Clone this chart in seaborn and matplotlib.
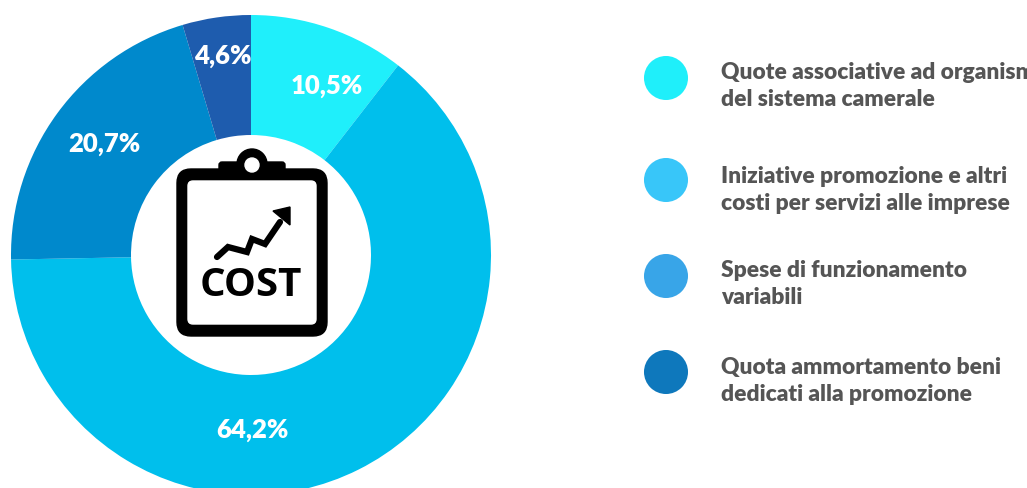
import matplotlib
matplotlib.use("Agg")
import matplotlib.pyplot as plt
import pandas as pd
import seaborn as sns
from matplotlib.patches import Circle, FancyBboxPatch, Polygon

# values
categories = [
    "Quote associative ad organismi\ndel sistema camerale",
    "Iniziative promozione e altri\ncosti per servizi alle imprese",
    "Spese di funzionamento\nvariabili",
    "Quota ammortamento beni\ndedicati alla promozione",
]
values = [10.5, 64.2, 20.7, 4.6]
value_labels = ["10,5%", "64,2%", "20,7%", "4,6%"]
slice_colors = ["#1FEFFB", "#00BFEC", "#0089CC", "#1E5CAE"]
legend_colors = ["#1FEFFA", "#38C6F9", "#38A5E8", "#0E78BC"]

# layout in pixels of the 1027x488 canvas
label_pos = [(327, 86), (252, 430), (104, 144), (223, 56)]
legend_x = [666, 666, 666, 666]
legend_y = [78, 180, 276, 372]
text_y = [86, 190, 284, 381]


def draw_icon(ax):
    ax.add_patch(Circle((252, 164), 15, color="black", zorder=3))
    ax.add_patch(FancyBboxPatch((219, 162), 66, 12, boxstyle="round,pad=0,rounding_size=3",
                                color="black", zorder=3))
    ax.add_patch(FancyBboxPatch((177, 169), 150, 167, boxstyle="round,pad=0,rounding_size=14",
                                color="black", zorder=3))
    ax.add_patch(FancyBboxPatch((188, 181), 128, 143, boxstyle="round,pad=0,rounding_size=5",
                                color="white", zorder=4))
    ax.add_patch(Circle((252, 165), 7, color="white", zorder=5))
    ax.plot([217, 228, 247, 252, 265, 280], [257, 247, 252, 239, 244, 222],
            color="black", lw=4.5, solid_joinstyle="miter", zorder=5)
    ax.add_patch(Polygon([(273, 211), (290, 207), (290, 225)], color="black", zorder=5))
    ax.text(251, 285, "COST", family="Open Sans", weight="bold", fontsize=29,
            color="black", ha="center", va="center", zorder=5)


def main():
    sns.set_theme(style="white")
    plt.rcParams["font.family"] = ["Lato", "DejaVu Sans"]

    fig = plt.figure(figsize=(10.27, 4.88), dpi=100)
    ax = fig.add_axes([0, 0, 1, 1])

    # y axis is flipped below, so counterclock here reads clockwise on screen
    ax.pie(values, colors=slice_colors, center=(251, 255), radius=240, startangle=-90,
           counterclock=True, wedgeprops={"width": 120, "linewidth": 0})

    for label, (x, y) in zip(value_labels, label_pos):
        ax.text(x, y, label, color="white", fontsize=18.5, weight="heavy",
                ha="center", va="center", zorder=6)

    legend_df = pd.DataFrame({"x": legend_x, "y": legend_y, "category": categories})
    sns.scatterplot(data=legend_df, x="x", y="y", hue="category", palette=legend_colors,
                    s=1005, linewidth=0, legend=False, ax=ax)

    for label, y in zip(categories, text_y):
        ax.text(721, y, label, color="#555555", fontsize=16.4, weight="heavy",
                ha="left", va="center", linespacing=1.33)

    draw_icon(ax)

    ax.set_xlim(0, 1027)
    ax.set_ylim(488, 0)
    ax.set_aspect("auto")
    ax.set_axis_off()
    fig.savefig("out.png", dpi=100, facecolor="white")


if __name__ == "__main__":
    main()
